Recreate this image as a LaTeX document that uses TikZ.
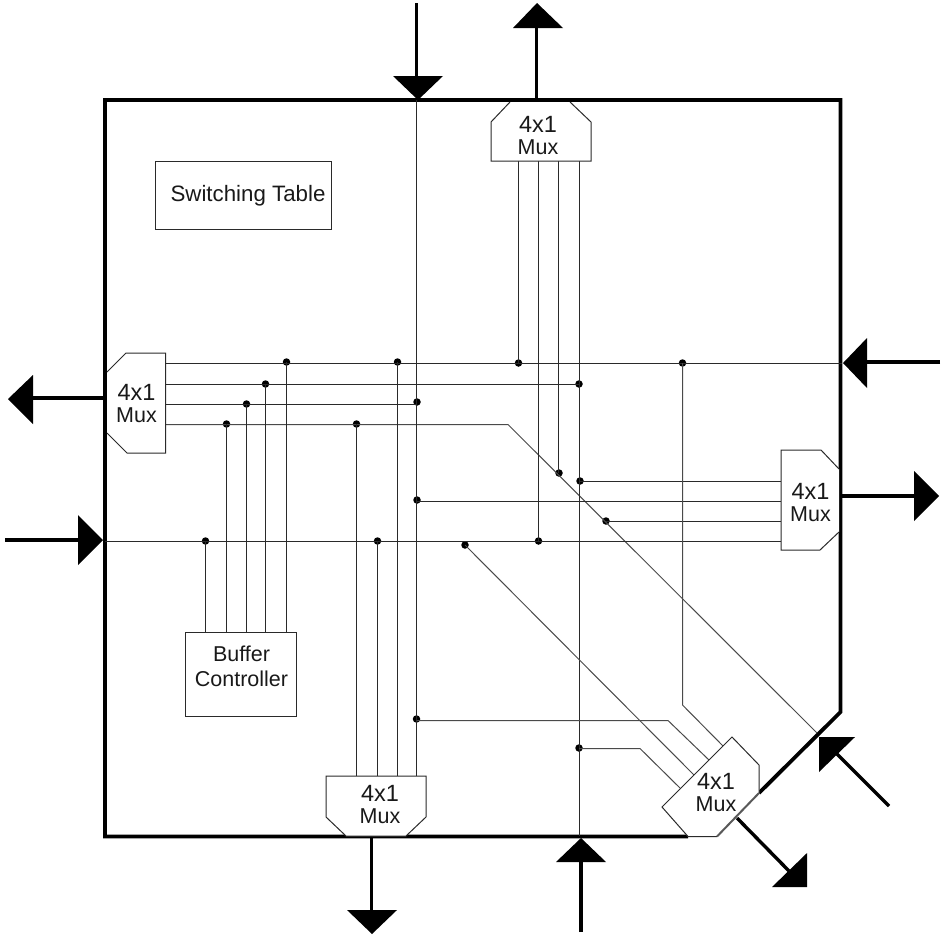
\documentclass[tikz,border=0pt]{standalone}
\usepackage{fontspec}
\setmainfont{Liberation Sans}
\definecolor{wirec}{HTML}{2A2A2A}
\newcommand{\fx}{{\fontsize{23.5}{22}\selectfont 4x1}\\Mux}
\tikzset{
  wire/.style={draw=wirec,line width=1pt},
  thinwire/.style={draw=wirec!85,line width=1pt},
  border/.style={draw=black,line width=3.8pt},
  shaft/.style={draw=black,line width=3.4pt},
  head/.style={fill=black,draw=none},
  dotn/.style={circle,fill=black,inner sep=0pt,minimum size=7.5pt},
  muxbody/.style={draw=wirec,line width=1pt,fill=white},
  muxtext/.style={align=center,font=\fontsize{21.5}{22}\selectfont,inner sep=0pt,text=black!90},
  boxn/.style={draw=wirec,line width=1pt,inner sep=0pt},
  boxtext/.style={align=center,inner sep=0pt,text=black!90}
}
\begin{document}
\begin{tikzpicture}[x=1pt,y=-1pt]
\useasboundingbox (0,0) rectangle (941,937);
% border
\coordinate (tl) at (105,100);
\coordinate (tr) at (840.5,100);
\coordinate (cr) at (840.5,712);
\coordinate (mh) at (759,793);
\coordinate (ml) at (717,836.5);
\coordinate (mb) at (688,836.5);
\coordinate (bl) at (105,836.5);
\draw[border,line join=miter] (mb) -- (bl) -- (tl) -- (tr) -- (cr) -- (mh);
% junctions
\foreach \n/\x/\y in {
 a/286.5/362,b/397.5/362,c/518.5/363,d/682.5/363,
 e/265.5/384,f/579/384,g/246.5/404,h/417/402,
 i/226.5/424,j/356.5/424,k/559/473,l/580/481,
 m/417/500,n/606/521,o/205.5/541,p/377.5/541,
 q/538.5/541,r/465/545,s/416.5/719,t/579/748}
 {\node[dotn] (\n) at (\x,\y) {};}
% mux terminals
\coordinate (L1) at (166,363.5);\coordinate (L2) at (166,384.5);\coordinate (L3) at (166,404.5);\coordinate (L4) at (166,424.5);
\coordinate (T1) at (518.5,161);\coordinate (T2) at (538.5,161);\coordinate (T3) at (558.5,161);\coordinate (T4) at (579.5,161);
\coordinate (R1) at (781,481.5);\coordinate (R2) at (781,501.5);\coordinate (R3) at (781,521.5);\coordinate (R4) at (781,541.5);
\coordinate (B1) at (356.5,776);\coordinate (B2) at (377.5,776);\coordinate (B3) at (397.5,776);\coordinate (B4) at (416.5,776);
\coordinate (C1) at (723,746);\coordinate (C2) at (709,760);\coordinate (C3) at (694,775);\coordinate (C4) at (680,788);
% port coordinates
\coordinate (inT) at (416.5,100);\coordinate (inR) at (842,363.5);\coordinate (inL) at (105,541.5);\coordinate (inB) at (579.5,836);
\coordinate (inC) at (817,733);
\coordinate (bend1) at (508,424.5);
\coordinate (bend2) at (682.5,705);
\coordinate (bend3) at (668,720.5);
\coordinate (bend4) at (640,748.5);
\coordinate (U1) at (205.5,632);\coordinate (U2) at (226.5,632);\coordinate (U3) at (246.5,632);\coordinate (U4) at (265.5,632);\coordinate (U5) at (286.5,632);
% wires
\draw[wire] (L1) -- (inR);
\draw[wire] (L2) -- (f |- L2);
\draw[wire] (L3) -- (h |- L3);
\draw[thinwire] (L4) -- (bend1) -- (inC);
\draw[wire] (inL) -- (R4);
\draw[wire] (inT) -- (B4);
\draw[wire] (inB) -- (T4);
\draw[wire] (T1) -- (T1 |- c);
\draw[wire] (T2) -- (T2 |- q);
\draw[wire] (T3) -- (T3 |- k);
\draw[wire] (R1) -- (l |- R1);
\draw[wire] (R2) -- (m |- R2);
\draw[wire] (R3) -- (n |- R3);
\draw[wire] (B1) -- (B1 |- j);
\draw[wire] (B2) -- (B2 |- p);
\draw[wire] (B3) -- (B3 |- b);
\draw[wire] (U1) -- (U1 |- o);
\draw[wire] (U2) -- (U2 |- i);
\draw[wire] (U3) -- (U3 |- g);
\draw[wire] (U4) -- (U4 |- e);
\draw[wire] (U5) -- (U5 |- a);
\draw[thinwire] (d.center) -- (bend2) -- (C1);
\draw[thinwire] (s.center |- bend3) -- (bend3) -- (C2);
\draw[thinwire] (r.center) -- (C3);
\draw[thinwire] (t.center |- bend4) -- (bend4) -- (C4);
% boxes
\node[boxn,minimum width=176pt,minimum height=68pt] (st) at (243,195) {};
\node[boxtext,font=\fontsize{22.3}{24}\selectfont] (stt) at (248,196) {Switching Table};
\node[boxn,minimum width=111pt,minimum height=84pt] (bc) at (240.5,674) {};
\node[boxtext,font=\fontsize{21.5}{25}\selectfont] (bct) at (241.5,666) {Buffer\\Controller};
% muxes
\draw[muxbody] (510,102) -- (491,122) -- (491,161) -- (591,161) -- (591,122) -- (570,102);
\node[muxtext] (mt) at (538,135.5) {\fx};
\draw[muxbody] (107,372) -- (126,353) -- (165.5,353) -- (165.5,453) -- (127,453) -- (107,433);
\node[muxtext] (ml1) at (136.5,403.5) {\fx};
\draw[muxbody] (839,469) -- (821,450) -- (781,450) -- (781,550) -- (820,550) -- (839,532);
\node[muxtext] (mr) at (810.5,502.5) {\fx};
\draw[muxbody] (326,776) -- (426,776) -- (426,817) -- (406,836) -- (346,836) -- (326,817) -- cycle;
\node[muxtext] (mb1) at (380,804.5) {\fx};
\draw[muxbody] (ml) -- (mb) -- (662,807) -- (732,737) -- (759,765) -- (mh);
\draw[draw=black!65,line width=2pt] (mh) -- (ml);
\node[muxtext] (mc) at (716,792.5) {\fx};
% arrows
\coordinate (a1s) at (416.5,3);\coordinate (a1b) at (416.5,78);
\draw[shaft] (a1s) -- (a1b);
\fill[head] (393,76) -- (443,76) -- (418,100) -- cycle;
\coordinate (a2s) at (536.5,100);\coordinate (a2b) at (536.5,27);
\draw[shaft] (a2s) -- (a2b);
\fill[head] (513,28) -- (563,28) -- (537,3) -- cycle;
\coordinate (a3s) at (940,362);\coordinate (a3b) at (866,362);
\draw[shaft] (a3s) -- (a3b);
\fill[head] (867,338) -- (867,388) -- (843,363) -- cycle;
\coordinate (a4s) at (105,398);\coordinate (a4b) at (33,398);
\draw[shaft] (a4s) -- (a4b);
\fill[head] (33,375) -- (33,424) -- (8,399) -- cycle;
\coordinate (a5s) at (5,540);\coordinate (a5b) at (78,540);
\draw[shaft] (a5s) -- (a5b);
\fill[head] (78,515) -- (78,565) -- (103,540) -- cycle;
\coordinate (a6s) at (840,496);\coordinate (a6b) at (915,496);
\draw[shaft] (a6s) -- (a6b);
\fill[head] (914,471) -- (914,521) -- (939,496) -- cycle;
\coordinate (a7s) at (371.5,837);\coordinate (a7b) at (371.5,911);
\draw[shaft] (a7s) -- (a7b);
\fill[head] (347,910) -- (397,910) -- (372,934) -- cycle;
\coordinate (a8s) at (581,932);\coordinate (a8b) at (581,861);
\draw[shaft] (a8s) -- (a8b);
\fill[head] (556,862) -- (606,862) -- (581,838) -- cycle;
\coordinate (a9s) at (737,818);\coordinate (a9b) at (789,871);
\draw[shaft] (a9s) -- (a9b);
\fill[head] (807,853) -- (807,887) -- (772,887) -- cycle;
\coordinate (a10s) at (889,806);\coordinate (a10b) at (837,754);
\draw[shaft] (a10s) -- (a10b);
\fill[head] (819,737) -- (855,737) -- (819,772) -- cycle;
\end{tikzpicture}
\end{document}
